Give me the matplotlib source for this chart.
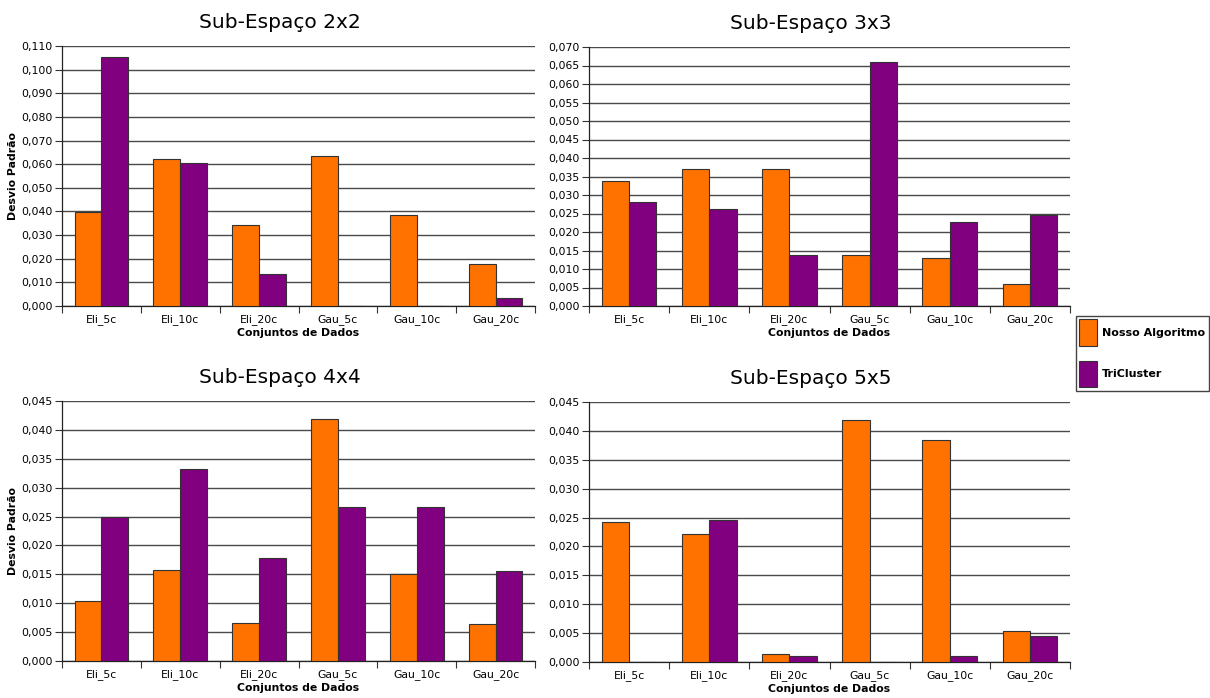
import matplotlib
matplotlib.use("Agg")
import matplotlib.pyplot as plt
import numpy as np
from matplotlib.ticker import FuncFormatter, MultipleLocator, FixedLocator

plt.rcParams['font.family'] = ['DejaVu Sans']

categories = ["Eli_5c", "Eli_10c", "Eli_20c", "Gau_5c", "Gau_10c", "Gau_20c"]
series_names = ["Nosso Algoritmo", "TriCluster"]

titles = ["Sub-Espaço 2x2", "Sub-Espaço 3x3", "Sub-Espaço 4x4", "Sub-Espaço 5x5"]

nosso_2x2 = [0.0398, 0.0622, 0.0343, 0.0635, 0.0385, 0.0178]
tri_2x2 = [0.1053, 0.0605, 0.0135, 0.0, 0.0, 0.0034]

nosso_3x3 = [0.0337, 0.0369, 0.0369, 0.0138, 0.0129, 0.0060]
tri_3x3 = [0.0282, 0.0263, 0.0137, 0.0660, 0.0228, 0.0245]

nosso_4x4 = [0.0103, 0.0157, 0.0065, 0.0418, 0.0151, 0.0064]
tri_4x4 = [0.0250, 0.0333, 0.0179, 0.0267, 0.0266, 0.0155]

nosso_5x5 = [0.0243, 0.0222, 0.0013, 0.0419, 0.0384, 0.0054]
tri_5x5 = [0.0, 0.0245, 0.0011, 0.0, 0.0011, 0.0045]

y_max = [0.110, 0.070, 0.045, 0.045]
y_step = [0.010, 0.005, 0.005, 0.005]

panels = [
    (nosso_2x2, tri_2x2),
    (nosso_3x3, tri_3x3),
    (nosso_4x4, tri_4x4),
    (nosso_5x5, tri_5x5),
]

ORANGE = "#ff7200"
PURPLE = "#800080"
EDGE = "#333333"
GRID = "#4a4a4a"

W, H = 1210, 698
fig = plt.figure(figsize=(W / 100, H / 100), dpi=100)

# axes rectangles in pixel coordinates: (left, top, right, bottom)
boxes = [
    (62, 46, 535, 306),
    (589, 47, 1070, 306),
    (62, 401, 535, 661),
    (589, 402, 1070, 662),
]

fmt = FuncFormatter(lambda v, p: f"{v:.3f}".replace(".", ","))
x = np.arange(len(categories))
bw = 0.34
handles = None

for i, ((a_vals, b_vals), box) in enumerate(zip(panels, boxes)):
    l, t, r, b = box
    ax = fig.add_axes([l / W, 1 - b / H, (r - l) / W, (b - t) / H])
    h1 = ax.bar(x - bw / 2, a_vals, bw, color=ORANGE, edgecolor=EDGE, linewidth=0.8, zorder=3)
    h2 = ax.bar(x + bw / 2, b_vals, bw, color=PURPLE, edgecolor=EDGE, linewidth=0.8, zorder=3)
    if handles is None:
        handles = [h1, h2]
    ax.set_xlim(-0.5, len(categories) - 0.5)
    ax.set_ylim(0, y_max[i])
    ax.yaxis.set_major_locator(MultipleLocator(y_step[i]))
    ax.yaxis.set_major_formatter(fmt)
    ax.yaxis.grid(True, color=GRID, linewidth=1.0, zorder=0)
    ax.set_axisbelow(True)
    # category boundary ticks, labels at centres
    ax.xaxis.set_major_locator(FixedLocator(np.arange(len(categories) + 1) - 0.5))
    ax.xaxis.set_major_formatter(FuncFormatter(lambda v, p: ""))
    ax.xaxis.set_minor_locator(FixedLocator(x))
    ax.set_xticklabels(categories, minor=True)
    ax.tick_params(axis="x", which="minor", length=0, labelsize=7.8, pad=6)
    ax.tick_params(axis="x", which="major", length=5, width=0.8, color=EDGE)
    ax.tick_params(axis="y", length=5, width=0.8, color=EDGE, labelsize=7.8, pad=2)
    for s in ("top", "right"):
        ax.spines[s].set_visible(False)
    for s in ("left", "bottom"):
        ax.spines[s].set_color("#222222")
        ax.spines[s].set_linewidth(0.9)
    ax.set_xlabel("Conjuntos de Dados", fontsize=7.8, fontweight="bold", labelpad=2)
    if i in (0, 2):
        ax.set_ylabel("Desvio Padrão", fontsize=7.8, fontweight="bold", labelpad=2)
    ax.set_title(titles[i], fontsize=14.5, x=0.46, pad=13)

fig.legend(handles, series_names, loc="upper left",
           bbox_to_anchor=(1076 / W, 1 - 316 / H), bbox_transform=fig.transFigure,
           borderaxespad=0, fancybox=False, framealpha=1, edgecolor="#444444",
           prop={"size": 8, "weight": "bold"},
           handlelength=1.6, handleheight=3.3, handletextpad=0.45,
           labelspacing=1.35, borderpad=0.3)

fig.savefig("out.png", dpi=100)
